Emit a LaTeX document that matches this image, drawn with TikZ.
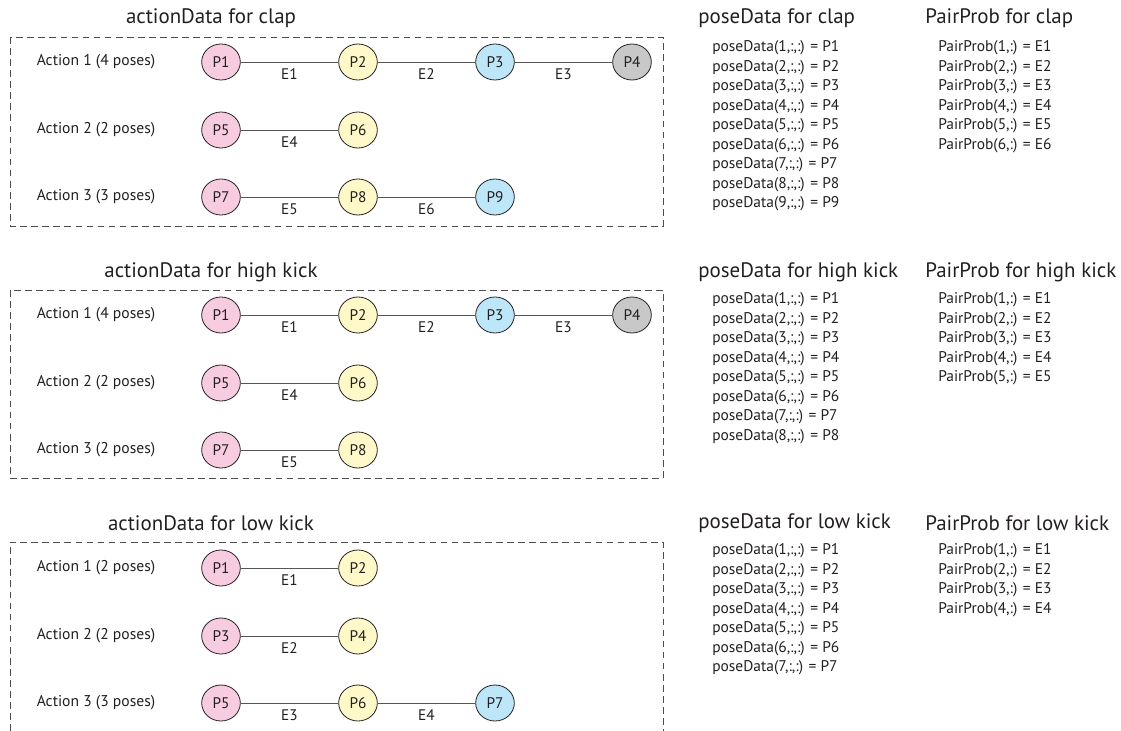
\documentclass[tikz,border=0pt]{standalone}
\usepackage{fontspec}
\setmainfont{PT Sans}
\usetikzlibrary{shapes.geometric}
\definecolor{txt}{HTML}{231F20}
\definecolor{pk}{HTML}{F8CCE0}
\definecolor{yl}{HTML}{FFF8C8}
\definecolor{bl}{HTML}{BDE6F8}
\definecolor{gr}{HTML}{C8C8C8}
\definecolor{ln}{HTML}{555555}
\tikzset{
  pose/.style={ellipse, draw=txt, line width=0.6pt, minimum width=29pt, minimum height=27pt, inner sep=0pt, text=txt, font=\fontsize{11.5}{13}\selectfont},
  lbl/.style={text=txt, font=\fontsize{11.7}{13}\selectfont, inner sep=0pt},
  ttl/.style={text=txt, font=\fontsize{15.7}{18}\selectfont, inner sep=0pt},
  lst/.style={text=txt, font=\fontsize{11.6}{13}\selectfont, inner sep=0pt, anchor=west},
  conn/.style={draw=ln, line width=0.6pt},
  elbl/.style={text=txt, font=\fontsize{11.5}{13}\selectfont, inner sep=0pt, midway, yshift=-9pt},
  frame/.style={draw=txt!80, dash pattern=on 5pt off 3.3pt, line width=0.5pt}
}
\begin{document}
\begin{tikzpicture}[x=0.75pt, y=-0.75pt]
\useasboundingbox (0,0) rectangle (1121,731);
% ---------------- clap ----------------
\node[ttl] (t1) at (211,18) {actionData for clap};
\draw[frame] (10,37) rectangle (663,226);
\node[lbl] (a11) at (96,62) {Action 1 (4 poses)};
\node[lbl] (a12) at (96,130) {Action 2 (2 poses)};
\node[lbl] (a13) at (96,197) {Action 3 (3 poses)};
\node[pose, fill=pk] (c1) at (221,62) {P1};
\node[pose, fill=yl] (c2) at (358,62) {P2};
\node[pose, fill=bl] (c3) at (495,62) {P3};
\node[pose, fill=gr] (c4) at (632,62) {P4};
\node[pose, fill=pk] (c5) at (221,130) {P5};
\node[pose, fill=yl] (c6) at (358,130) {P6};
\node[pose, fill=pk] (c7) at (221,197) {P7};
\node[pose, fill=yl] (c8) at (358,197) {P8};
\node[pose, fill=bl] (c9) at (495,197) {P9};
\draw[conn] (c1) -- node[elbl] (ce1) {E1} (c2);
\draw[conn] (c2) -- node[elbl] (ce2) {E2} (c3);
\draw[conn] (c3) -- node[elbl] (ce3) {E3} (c4);
\draw[conn] (c5) -- node[elbl] (ce4) {E4} (c6);
\draw[conn] (c7) -- node[elbl] (ce5) {E5} (c8);
\draw[conn] (c8) -- node[elbl] (ce6) {E6} (c9);
\node[ttl, anchor=west] (pt1) at (698,18) {poseData for clap};
\node[ttl, anchor=west] (pp1) at (925,18) {PairProb for clap};
\foreach \i in {1,...,9} \node[lst] (pl1\i) at (712,{48+19.5*(\i-1)}) {poseData(\i,:,:) = P\i};
\foreach \i in {1,...,6} \node[lst] (ql1\i) at (938,{48+19.5*(\i-1)}) {PairProb(\i,:) = E\i};
% ---------------- high kick ----------------
\node[ttl] (t2) at (211,272) {actionData for high kick};
\draw[frame] (10,290) rectangle (663,478);
\node[lbl] (a21) at (96,315) {Action 1 (4 poses)};
\node[lbl] (a22) at (96,383) {Action 2 (2 poses)};
\node[lbl] (a23) at (96,450) {Action 3 (2 poses)};
\node[pose, fill=pk] (h1) at (221,315) {P1};
\node[pose, fill=yl] (h2) at (358,315) {P2};
\node[pose, fill=bl] (h3) at (495,315) {P3};
\node[pose, fill=gr] (h4) at (632,315) {P4};
\node[pose, fill=pk] (h5) at (221,383) {P5};
\node[pose, fill=yl] (h6) at (358,383) {P6};
\node[pose, fill=pk] (h7) at (221,450) {P7};
\node[pose, fill=yl] (h8) at (358,450) {P8};
\draw[conn] (h1) -- node[elbl] (he1) {E1} (h2);
\draw[conn] (h2) -- node[elbl] (he2) {E2} (h3);
\draw[conn] (h3) -- node[elbl] (he3) {E3} (h4);
\draw[conn] (h5) -- node[elbl] (he4) {E4} (h6);
\draw[conn] (h7) -- node[elbl] (he5) {E5} (h8);
\node[ttl, anchor=west] (pt2) at (698,272) {poseData for high kick};
\node[ttl, anchor=west] (pp2) at (925,272) {PairProb for high kick};
\foreach \i in {1,...,8} \node[lst] (pl2\i) at (712,{300+19.5*(\i-1)}) {poseData(\i,:,:) = P\i};
\foreach \i in {1,...,5} \node[lst] (ql2\i) at (938,{300+19.5*(\i-1)}) {PairProb(\i,:) = E\i};
% ---------------- low kick ----------------
\node[ttl] (t3) at (211,523) {actionData for low kick};
\draw[frame] (10,731) -- (10,542) -- (663,542) -- (663,731);
\node[lbl] (a31) at (96,568) {Action 1 (2 poses)};
\node[lbl] (a32) at (96,636) {Action 2 (2 poses)};
\node[lbl] (a33) at (96,703) {Action 3 (3 poses)};
\node[pose, fill=pk] (l1) at (221,568) {P1};
\node[pose, fill=yl] (l2) at (358,568) {P2};
\node[pose, fill=pk] (l3) at (221,636) {P3};
\node[pose, fill=yl] (l4) at (358,636) {P4};
\node[pose, fill=pk] (l5) at (221,703) {P5};
\node[pose, fill=yl] (l6) at (358,703) {P6};
\node[pose, fill=bl] (l7) at (495,703) {P7};
\draw[conn] (l1) -- node[elbl] (le1) {E1} (l2);
\draw[conn] (l3) -- node[elbl] (le2) {E2} (l4);
\draw[conn] (l5) -- node[elbl] (le3) {E3} (l6);
\draw[conn] (l6) -- node[elbl] (le4) {E4} (l7);
\node[ttl, anchor=west] (pt3) at (698,523) {poseData for low kick};
\node[ttl, anchor=west] (pp3) at (925,523) {PairProb for low kick};
\foreach \i in {1,...,7} \node[lst] (pl3\i) at (712,{551+19.5*(\i-1)}) {poseData(\i,:,:) = P\i};
\foreach \i in {1,...,4} \node[lst] (ql3\i) at (938,{551+19.5*(\i-1)}) {PairProb(\i,:) = E\i};
\end{tikzpicture}
\end{document}
